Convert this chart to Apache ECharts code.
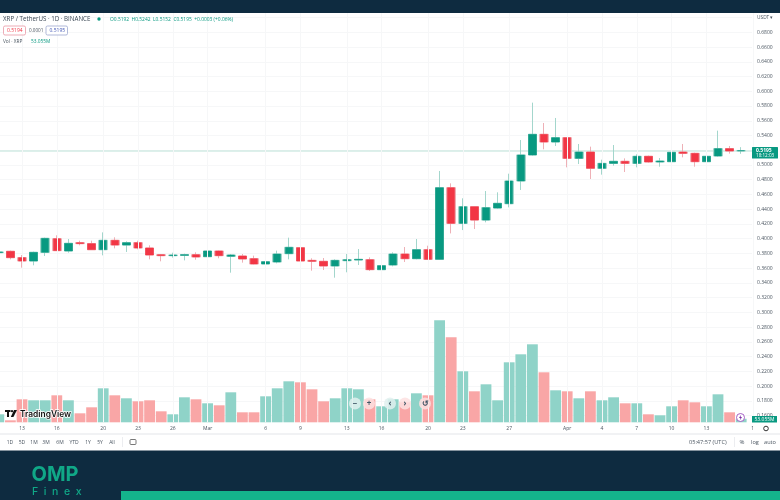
<!DOCTYPE html>
<html>
<head>
<meta charset="utf-8">
<style>
  html, body { margin: 0; padding: 0; background: #fff; }
  #chart { width: 780px; height: 500px; }
</style>
<script src="https://cdn.jsdelivr.net/npm/echarts@6/dist/echarts.min.js"></script>
</head>
<body>
<div id="chart"></div>
<script>
const categories = [
  'Feb 11','Feb 12','Feb 13','Feb 14','Feb 15','Feb 16','Feb 17','Feb 18','Feb 19','Feb 20','Feb 21','Feb 22','Feb 23','Feb 24','Feb 25','Feb 26','Feb 27','Feb 28',
  'Mar 1','Mar 2','Mar 3','Mar 4','Mar 5','Mar 6','Mar 7','Mar 8','Mar 9','Mar 10','Mar 11','Mar 12','Mar 13','Mar 14','Mar 15','Mar 16','Mar 17','Mar 18','Mar 19','Mar 20','Mar 21','Mar 22','Mar 23','Mar 24','Mar 25','Mar 26','Mar 27','Mar 28','Mar 29','Mar 30','Mar 31',
  'Apr 1','Apr 2','Apr 3','Apr 4','Apr 5','Apr 6','Apr 7','Apr 8','Apr 9','Apr 10','Apr 11','Apr 12','Apr 13','Apr 14','Apr 15','Apr 16','Apr 17'
];
const opens = [
  .3811,.3829,.3743,.3697,.3815,.4000,.3833,.3946,.3933,.3851,.3978,.3914,.3946,.3874,.3783,.3770,.3774,.3783,
  .3756,.3833,.3761,.3765,.3729,.3657,.3684,.3797,.3878,.3706,.3693,.3630,.3702,.3711,.3715,.3580,.3643,.3792,.3729,.3851,.3720,.4692,.4208,.4434,.4253,.4416,.4475,.4783,.5136,.5416,.5312,
  .5371,.5090,.5176,.4955,.5022,.5050,.5022,.5118,.5041,.5045,.5176,.5158,.5045,.5122,.5222,.5192
];
const closes = [
  .3820,.3743,.3697,.3815,.4005,.3838,.3937,.3933,.3851,.3978,.3914,.3946,.3874,.3779,.3770,.3779,.3783,.3752,
  .3833,.3770,.3779,.3725,.3657,.3688,.3792,.3883,.3697,.3693,.3630,.3706,.3715,.3720,.3580,.3634,.3792,.3729,.3851,.3720,.4692,.4208,.4434,.4253,.4421,.4480,.4783,.5136,.5416,.5312,.5371,
  .5090,.5176,.4955,.5022,.5050,.5022,.5118,.5041,.5054,.5172,.5158,.5045,.5118,.5222,.5190,.5195
];
const lows = [
  .3806,.3720,.3607,.3639,.3765,.3833,.3810,.3910,.3847,.3774,.3869,.3820,.3856,.3720,.3693,.3743,.3706,.3715,
  .3725,.3734,.3539,.3675,.3652,.3584,.3666,.3720,.3639,.3566,.3575,.3471,.3544,.3643,.3562,.3557,.3625,.3684,.3720,.3711,.3715,.4072,.4117,.4131,.4222,.4407,.4425,.4661,.5127,.5213,.5258,
  .4968,.5013,.4810,.4869,.4991,.4905,.4968,.5032,.4977,.4995,.5104,.4977,.5018,.5113,.5154,.5152
];
const highs = [
  .3824,.3838,.3779,.3824,.4014,.4046,.3996,.3973,.3973,.4086,.4019,.3964,.3973,.3910,.3792,.3810,.3797,.3815,
  .3838,.3838,.3792,.3792,.3770,.3734,.3838,.4014,.3969,.3734,.3738,.3720,.3792,.3860,.3747,.3666,.3815,.3887,.3996,.3905,.4919,.4751,.4548,.4434,.4647,.4629,.4882,.5339,.5846,.5570,.5638,
  .5371,.5285,.5249,.5072,.5271,.5090,.5145,.5127,.5095,.5194,.5285,.5167,.5145,.5466,.5258,.5242
];
// volume in millions
const volumes = [
  120,30,345,330,330,405,330,135,225,510,405,360,315,330,165,120,375,345,
  285,255,450,150,150,390,510,615,600,495,315,360,510,495,345,240,345,300,435,405,1530,1275,765,465,570,330,900,1020,1170,750,480,
  465,360,465,330,375,285,285,120,105,240,330,300,240,420,150,53.055
];
const tickLabels = {
  'Feb 13':'13','Feb 16':'16','Feb 20':'20','Feb 23':'23','Feb 26':'26','Mar 1':'Mar','Mar 6':'6','Mar 9':'9','Mar 13':'13','Mar 16':'16',
  'Mar 20':'20','Mar 23':'23','Mar 27':'27','Apr 1':'Apr','Apr 4':'4','Apr 7':'7','Apr 10':'10','Apr 13':'13','Apr 17':'1'
};
const lastPrice = 0.5195;
const periodButtons = [['1D',10],['5D',22],['1M',34],['3M',46],['6M',60],['YTD',74],['1Y',88],['5Y',100],['All',112]];

const UP = '#089981', DOWN = '#f23645', UP_WICK = '#a3d6cc', DOWN_WICK = '#eeb0b6';
const UP_VOL = '#8fd3c8', DOWN_VOL = '#f9a6a6';
const GRIDLINE = '#f6f7f8', NAVY = '#0e2b40', TEAL = '#14b48c', TEXT = '#4a5560';
const FONT = '"Open Sans", sans-serif';

const isUp = i => closes[i] >= opens[i];
const wickData = opens.map((o, i) => [o, closes[i], lows[i], highs[i]]);
const bodyData = opens.map((o, i) => [o, closes[i], Math.min(o, closes[i]), Math.max(o, closes[i])]);
const volumeData = volumes.map((v, i) => ({ value: v, itemStyle: { color: isUp(i) ? UP_VOL : DOWN_VOL } }));

function txt(text, x, y, size, color, extra) {
  return {
    type: 'text', x: x, y: y, z: 10, silent: true,
    style: Object.assign({ text: text, fontSize: size, fontFamily: FONT, fill: color, verticalAlign: 'middle' }, extra || {})
  };
}
function box(x, y, w, h, fill, extra) {
  return { type: 'rect', z: (extra && extra.z) || 9, silent: true, shape: { x: x, y: y, width: w, height: h, r: (extra && extra.r) || 0 },
    style: { fill: fill, stroke: extra && extra.stroke, lineWidth: (extra && extra.lineWidth) || 0 } };
}
function navButton(x, tint, glyph) {
  return [
    { type: 'circle', z: 9, silent: true, shape: { cx: x, cy: 403.5, r: 6 }, style: { fill: tint } },
    txt(glyph, x, 403.5, 8, '#3f5565', { align: 'center', fontWeight: 'bold' })
  ];
}

const graphics = [
  box(752, 13, 28, 437, '#fff', { z: 3 }),
  box(0, 433, 780, 2, '#f1f2f4'),
  box(0, 0, 780, 13, NAVY),
  box(0, 450.5, 780, 50, NAVY),
  box(121, 491, 659, 9, TEAL),

  txt('XRP / TetherUS · 1D · BINANCE', 3, 19.5, 6.2, '#3a4653'),
  { type: 'circle', z: 10, silent: true, shape: { cx: 99, cy: 19, r: 1.7 }, style: { fill: UP } },
  txt('O0.5192  H0.5242  L0.5152  C0.5195  +0.0003 (+0.06%)', 110, 20, 4.9, UP),
  box(3.5, 26, 22, 9, '#fff', { r: 1.5, stroke: '#e58a9a', lineWidth: 0.7 }),
  txt('0.5194', 7, 30.7, 5, DOWN),
  txt('0.0001', 29, 30.5, 4.6, TEXT),
  box(46, 26, 21.5, 9, '#fff', { r: 1.5, stroke: '#8f9cc8', lineWidth: 0.7 }),
  txt('0.5195', 49.5, 30.7, 5, '#3f55b5'),
  txt('Vol · XRP', 3, 42, 4.8, TEXT),
  txt('53.055M', 31, 42, 4.8, UP),

  txt('USDT ▾', 757, 17.5, 4.8, TEXT),
  box(752, 147, 26, 11.5, UP, { r: 0.5 }),
  txt('0.5195', 756, 150.3, 5, '#fff', { fontWeight: 'bold' }),
  txt('18:12:03', 756, 155.5, 4.6, '#fff'),
  box(752, 416, 25, 6.5, UP),
  txt('53.055M', 754.5, 419.3, 5, '#fff'),
  { type: 'circle', z: 10, silent: true, shape: { cx: 740.5, cy: 417.5, r: 4 }, style: { fill: '#fff', stroke: '#9c4fc0', lineWidth: 0.9 } },
  { type: 'polygon', z: 11, silent: true, shape: { points: [[741, 414.8], [739, 418], [740.4, 418], [740, 420.2], [742, 417], [740.6, 417]] }, style: { fill: '#7b2fa5' } },
  { type: 'circle', z: 10, silent: true, shape: { cx: 766, cy: 428.5, r: 2.3 }, style: { fill: '#fff', stroke: '#333', lineWidth: 1 } },

  // TradingView watermark
  box(5, 410, 5.5, 2, '#111', { z: 10 }),
  box(7, 410, 2, 7, '#111', { z: 10 }),
  { type: 'circle', z: 10, silent: true, shape: { cx: 12, cy: 411.2, r: 1.1 }, style: { fill: '#111' } },
  { type: 'polygon', z: 10, silent: true, shape: { points: [[14, 410], [17, 410], [13.4, 417], [10.8, 417]] }, style: { fill: '#111' } },
  txt('TradingView', 20, 414, 8.4, '#111', { fontFamily: 'Inter, sans-serif', fontWeight: 600, stroke: '#fff', lineWidth: 1.5 }),

  ...navButton(355, 'rgba(225,240,238,0.85)', '−'),
  ...navButton(369, 'rgba(253,225,225,0.85)', '+'),
  ...navButton(390, 'rgba(225,240,238,0.85)', '‹'),
  ...navButton(405, 'rgba(253,225,225,0.85)', '›'),
  ...navButton(425, 'rgba(253,225,225,0.85)', '↺'),

  ...periodButtons.map(b => txt(b[0], b[1], 442.3, 5, TEXT, { align: 'center' })),
  box(122, 437, 0.7, 10, '#e4e6ea'),
  box(130, 439.5, 6, 5, '#fff', { z: 10, r: 1, stroke: '#555', lineWidth: 0.8 }),
  txt('05:47:57 (UTC)', 689, 442.3, 5.6, TEXT),
  box(734, 437, 0.7, 10, '#e4e6ea'),
  txt('%', 742, 442.3, 6, TEXT, { align: 'center' }),
  txt('log', 755, 442.3, 5.6, TEXT, { align: 'center' }),
  txt('auto', 770, 442.3, 5.6, TEXT, { align: 'center' }),

  txt('OMP', 31.5, 475, 20, '#10a887', { fontFamily: 'Inter, sans-serif', fontWeight: 'bold' }),
  txt('F  i  n  e  x', 32, 491.5, 10.5, '#10a887', { fontFamily: 'Inter, sans-serif', fontWeight: 500 })
];

const xBase = {
  type: 'category', data: categories, boundaryGap: true,
  axisLine: { show: false }, axisTick: { show: false }
};

const chart = echarts.init(document.getElementById('chart'));
chart.setOption({
  animation: false,
  backgroundColor: '#ffffff',
  grid: [
    { left: -7, width: 765.6, top: 2.86, height: 412.72, outerBoundsMode: 'none' },
    { left: -7, width: 765.6, top: 13, height: 409.3, outerBoundsMode: 'none' }
  ],
  xAxis: [
    Object.assign({}, xBase, { gridIndex: 0, axisLabel: { show: false }, splitLine: { show: false } }),
    Object.assign({}, xBase, {
      gridIndex: 1, z: 5,
      axisLabel: {
        interval: (i, v) => v in tickLabels,
        formatter: v => tickLabels[v] || '',
        fontSize: 5, color: TEXT, fontFamily: FONT, margin: 3.5
      },
      splitLine: { show: true, alignWithLabel: true, interval: (i, v) => v in tickLabels, lineStyle: { color: GRIDLINE, width: 1 } }
    })
  ],
  yAxis: [
    { type: 'value', gridIndex: 0, min: 0.16, max: 0.72, interval: 0.02, axisLine: { show: false }, axisTick: { show: false }, axisLabel: { show: false },
      splitLine: { lineStyle: { color: GRIDLINE, width: 1 } } },
    { type: 'value', gridIndex: 0, position: 'right', z: 5, min: 0.16, max: 0.72, interval: 0.02, axisLine: { show: false }, axisTick: { show: false }, splitLine: { show: false },
      axisLabel: { margin: -1.6, fontSize: 5, color: TEXT, fontFamily: FONT, formatter: v => v > 0.69 ? '' : v.toFixed(4) } },
    { type: 'value', gridIndex: 1, min: 0, max: 6140, show: false }
  ],
  series: [
    { name: 'Vol', type: 'bar', xAxisIndex: 1, yAxisIndex: 2, barWidth: 10.8, data: volumeData },
    { name: 'XRP wicks', type: 'candlestick', xAxisIndex: 0, yAxisIndex: 0, barWidth: 9, data: wickData,
      itemStyle: { color: UP_WICK, color0: DOWN_WICK, borderColor: UP_WICK, borderColor0: DOWN_WICK, borderWidth: 1 } },
    { name: 'XRP', type: 'candlestick', xAxisIndex: 0, yAxisIndex: 0, barWidth: 8, data: bodyData,
      itemStyle: { color: UP, color0: DOWN, borderColor: UP, borderColor0: DOWN, borderWidth: 0.5 },
      markLine: { silent: true, z: 1, symbol: 'none', label: { show: false }, data: [{ yAxis: lastPrice }],
        lineStyle: { color: '#d2ebe5', type: 'solid', width: 1.5 } } }
  ],
  graphic: { elements: graphics }
});
</script>
</body>
</html>
